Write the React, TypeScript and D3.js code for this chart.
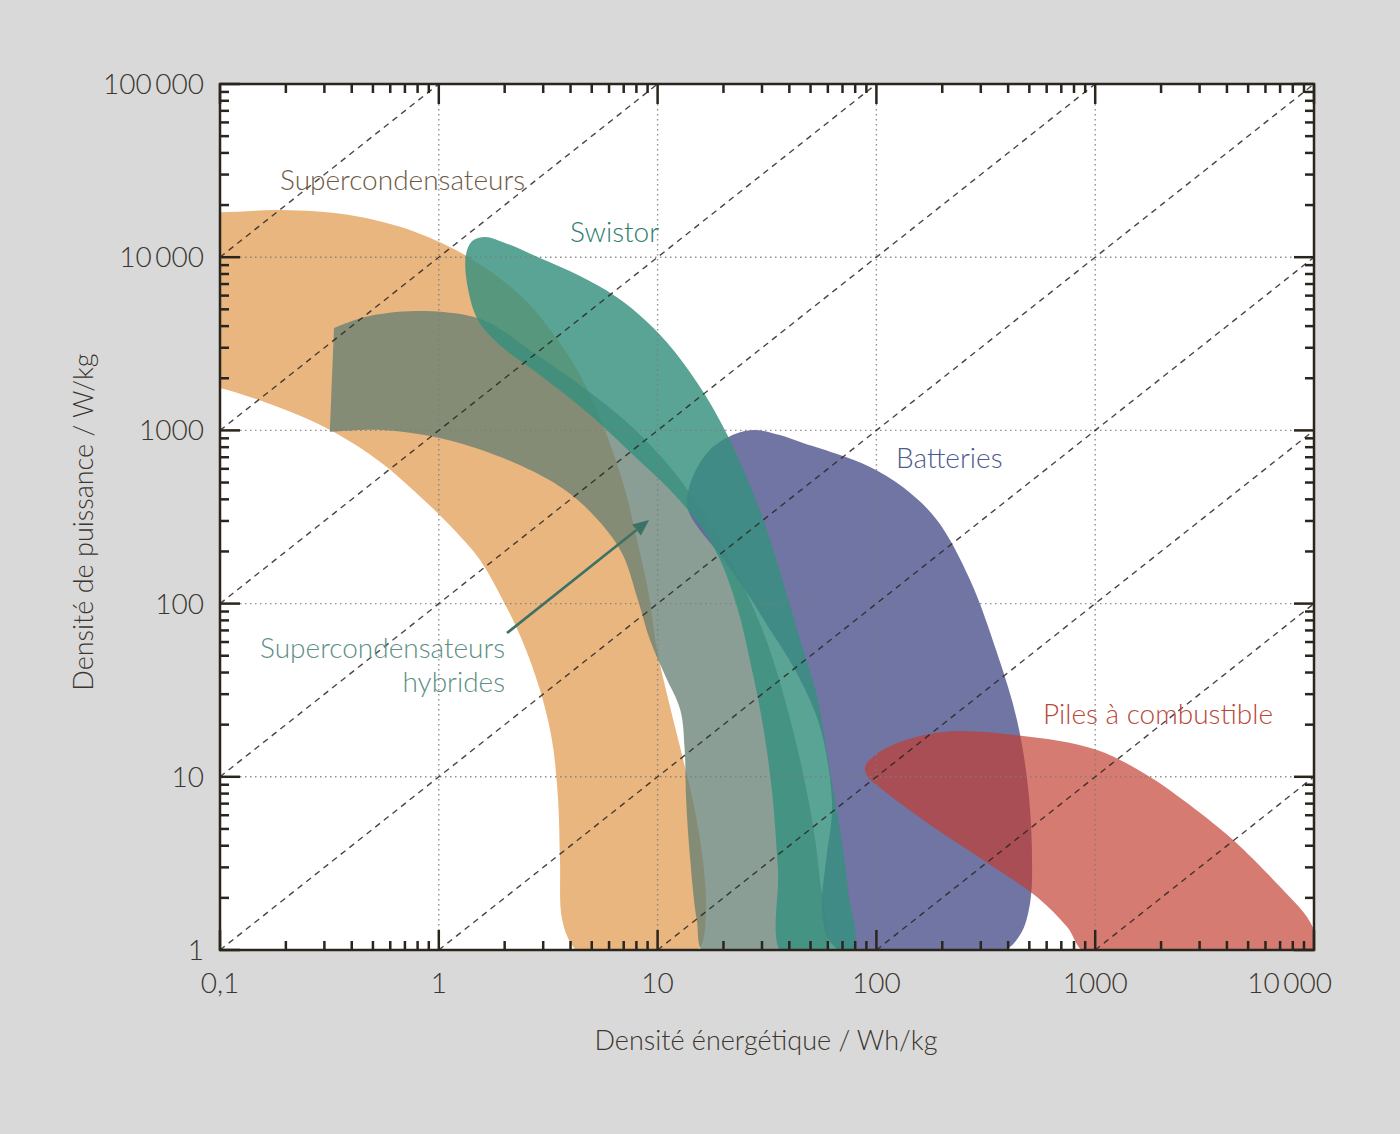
import React from "react";
import * as d3 from "d3";

const W = 1400;
const H = 1134;
const left = 220, right = 1314, top = 84, bottom = 950;

// axes
const xTickValues = [0.1, 1, 10, 100, 1000, 10000];
const xTickLabels = ["0,1", "1", "10", "100", "1000", "10\u2009000"];
const yTickValues = [1, 10, 100, 1000, 10000, 100000];
const yTickLabels = ["1", "10", "100", "1000", "10\u2009000", "100\u2009000"];
// constant E/P lines (hours)
const timeConstants = [1e-5, 1e-4, 1e-3, 1e-2, 1e-1, 1, 10, 100, 1000];

// outlines, [Wh/kg, W/kg]
const supercaps: [number, number][] = [
  [0.06, 18500], [0.1, 18200], [0.19, 18700], [0.39, 17500], [0.78, 14000], [1.39, 9900],
  [2.35, 6050], [3.29, 3700], [4.42, 2090], [5.75, 1000], [7.1, 455], [8.05, 233],
  [9.04, 120], [9.94, 54], [11.2, 27.8], [13.1, 12.5], [14.8, 6.4], [16.3, 2.9],
  [16.6, 1.6], [15.6, 1.03], [12, 0.85], [5, 0.85], [4.1, 1.05], [3.66, 1.5],
  [3.58, 3.3], [3.51, 7.35], [3.29, 16.3], [2.9, 31.7], [2.4, 61.6], [1.96, 105],
  [1.54, 179], [1.12, 284], [0.78, 441], [0.54, 658], [0.325, 993], [0.188, 1350],
  [0.1, 1760], [0.06, 1950],
];

// corners repeated so the outline keeps them sharp
const hybrids: [number, number][] = [
  [0.332, 3900], [0.332, 3900], [0.46, 4520], [0.78, 4890], [1.32, 4640], [1.71, 4170], [2.61, 2910],
  [4.42, 1830], [7.48, 1075], [11.4, 615], [15.6, 356], [20.8, 196], [26.4, 105],
  [32, 57.7], [38.2, 27.8], [44.8, 12.5], [50.8, 5.63], [55.2, 2.54], [57, 0.94],
  [16.5, 0.94], [15.1, 1.49], [14.1, 3.31], [13.5, 7.35], [13.3, 14.3], [12.7, 24.3],
  [10.8, 38.7], [9.23, 61.6], [8.13, 105], [6.87, 196], [5.34, 304], [3.77, 453],
  [2.23, 648], [1.1, 880], [0.55, 1005], [0.318, 979], [0.318, 979],
];

const swistor: [number, number][] = [
  [1.33, 10300], [1.42, 12400], [1.63, 13100], [2.01, 12080], [2.9, 9890], [4.42, 7790],
  [6.39, 5970], [8.76, 4340], [12, 2840], [16.5, 1600], [21.4, 880], [27, 453],
  [32.7, 233], [39, 112], [44.8, 61.6], [54, 27.8], [60.1, 12.5], [68.2, 4.93],
  [74.2, 2.22], [77.3, 0.94], [37.4, 0.94], [35.5, 2.9], [33.3, 8.39], [30, 21.3],
  [26.4, 47.3], [23.3, 91.8], [19.3, 179], [15.6, 284], [11.4, 453], [7.48, 750],
  [4.91, 1230], [2.9, 2090], [1.9, 3110], [1.51, 4340], [1.35, 6910],
];

const batteries: [number, number][] = [
  [13.6, 381], [14.4, 531], [17.3, 771], [22.6, 953], [27.9, 1005], [36.2, 940],
  [46.2, 846], [68.2, 721], [93.5, 615], [132, 471], [189, 304], [268, 137],
  [356, 51.8], [439, 21.3], [493, 8.73], [514, 3.63], [504, 1.87], [453, 1.22],
  [367, 0.97], [71.8, 0.97], [60.1, 1.17], [56.4, 1.82], [58.9, 3.31], [62.7, 6.43],
  [60.1, 11.7], [54, 21.3], [42.5, 41.4], [32.7, 70.4], [25.1, 120], [19.3, 191],
  [15.6, 266], [14.1, 325],
];

const fuelCells: [number, number][] = [
  [88.7, 11.4], [107, 14.3], [195, 18.1], [439, 17.4], [1020, 14.3], [1780, 9.97],
  [2520, 7.35], [4270, 4.32], [7220, 2.22], [9290, 1.55], [10400, 1.14], [10500, 0.94],
  [927, 0.94], [743, 1.36], [542, 2.02], [307, 3.31], [182, 5.13], [107, 8.39],
  [91.6, 9.97],
];

const hybridArrow: [number, number][] = [[2.05, 67.6], [9.14, 304]];

const regions = [
  { name: "supercaps", pts: supercaps, fill: "#EAB680", opacity: 1 },
  { name: "hybrids", pts: hybrids, fill: "#637E73", opacity: 0.75 },
  { name: "batteries", pts: batteries, fill: "#62669A", opacity: 0.9 },
  { name: "swistor", pts: swistor, fill: "#36907E", opacity: 0.82 },
  { name: "fuel", pts: fuelCells, fill: "#C23D2E", opacity: 0.68 },
];

const labels = [
  { text: "Supercondensateurs", at: [0.188, 24400], anchor: "start", color: "#6E5A45" },
  { text: "Swistor", at: [3.98, 12200], anchor: "start", color: "#2F7D70" },
  { text: "Batteries", at: [123, 607], anchor: "start", color: "#4D5A8E" },
  { text: "Piles à combustible", at: [577, 20.2], anchor: "start", color: "#B8483A" },
  { text: "Supercondensateurs", at: [2.01, 48.5], anchor: "end", color: "#5E8E86" },
  { text: "hybrides", at: [2.01, 30.9], anchor: "end", color: "#5E8E86" },
];

const font = "Lato, 'Open Sans', sans-serif";
const ink = "#2A251D";

export default function App() {
  const x = d3.scaleLog().domain([0.1, 10000]).range([left, right]);
  const y = d3.scaleLog().domain([1, 100000]).range([bottom, top]);

  const outline = d3
    .line<[number, number]>()
    .x((d) => x(d[0]))
    .y((d) => y(d[1]))
    .curve(d3.curveCatmullRomClosed.alpha(0.5));

  const isMajor = (v: number) => Math.abs(Math.log10(v) - Math.round(Math.log10(v))) < 1e-9;
  const xt = x.ticks();
  const yt = y.ticks();

  const diagonals = timeConstants
    .map((r) => {
      const e0 = Math.max(0.1, r * 1);
      const e1 = Math.min(10000, r * 100000);
      return { r, e0, e1 };
    })
    .filter((d) => d.e0 < d.e1);

  // arrow head
  const [a0, a1] = hybridArrow;
  const ax0 = x(a0[0]), ay0 = y(a0[1]), ax1 = x(a1[0]), ay1 = y(a1[1]);
  const ang = Math.atan2(ay1 - ay0, ax1 - ax0);
  const hl = 16, hw = 7;
  const bx = ax1 - hl * Math.cos(ang), by = ay1 - hl * Math.sin(ang);
  const head = [
    [ax1, ay1],
    [bx + hw * Math.sin(ang), by - hw * Math.cos(ang)],
    [bx - hw * Math.sin(ang), by + hw * Math.cos(ang)],
  ];

  return (
    <svg width={W} height={H} style={{ position: "absolute", left: 0, top: 0 }} fontFamily={font}>
      <defs>
        <clipPath id="plot">
          <rect x={left} y={top} width={right - left} height={bottom - top} />
        </clipPath>
      </defs>
      <rect width={W} height={H} fill="#D9D9D9" />
      <rect x={left} y={top} width={right - left} height={bottom - top} fill="#fff" />

      <g clipPath="url(#plot)">
        {regions.map((r) => (
          <path key={r.name} d={outline(r.pts) || ""} fill={r.fill} fillOpacity={r.opacity} />
        ))}
      </g>

      {/* grid */}
      <g stroke="#7d7d7d" strokeWidth={1.4} strokeDasharray="1.5,3.5" opacity={0.85}>
        {xTickValues.slice(1, -1).map((v) => (
          <line key={"gx" + v} x1={x(v)} x2={x(v)} y1={top} y2={bottom} />
        ))}
        {yTickValues.slice(1, -1).map((v) => (
          <line key={"gy" + v} x1={left} x2={right} y1={y(v)} y2={y(v)} />
        ))}
      </g>
      <g stroke="#2b2620" strokeWidth={1.4} strokeDasharray="6,5" opacity={0.85}>
        {diagonals.map((d) => (
          <line key={"d" + d.r} x1={x(d.e0)} y1={y(d.e0 / d.r)} x2={x(d.e1)} y2={y(d.e1 / d.r)} />
        ))}
      </g>

      {/* ticks on four sides */}
      <g stroke={ink} strokeWidth={2.5}>
        {xt.map((v) => {
          const len = isMajor(v) ? 20 : 9;
          return (
            <g key={"tx" + v}>
              <line x1={x(v)} x2={x(v)} y1={bottom} y2={bottom - len} />
              <line x1={x(v)} x2={x(v)} y1={top} y2={top + len} />
            </g>
          );
        })}
        {yt.map((v) => {
          const len = isMajor(v) ? 20 : 9;
          return (
            <g key={"ty" + v}>
              <line x1={left} x2={left + len} y1={y(v)} y2={y(v)} />
              <line x1={right} x2={right - len} y1={y(v)} y2={y(v)} />
            </g>
          );
        })}
      </g>
      <rect x={left} y={top} width={right - left} height={bottom - top} fill="none" stroke={ink} strokeWidth={2.5} />

      {/* tick labels */}
      <g fill="#3B362F" fontSize={28} fontWeight={300}>
        {xTickValues.map((v, i) => (
          <text
            key={"lx" + v}
            x={i === xTickValues.length - 1 ? x(v) + 18 : x(v)}
            y={993}
            textAnchor={i === xTickValues.length - 1 ? "end" : "middle"}
          >
            {xTickLabels[i]}
          </text>
        ))}
        {yTickValues.map((v, i) => (
          <text key={"ly" + v} x={204} y={y(v)} dy="0.36em" textAnchor="end">
            {yTickLabels[i]}
          </text>
        ))}
      </g>

      {/* axis titles */}
      <g fill="#3B362F" fontSize={27} fontWeight={300}>
        <text x={766} y={1050} textAnchor="middle">
          Densité énergétique / Wh/kg
        </text>
        <text transform="translate(93,522) rotate(-90)" textAnchor="middle">
          Densité de puissance / W/kg
        </text>
      </g>

      {/* region labels */}
      <g fontSize={28} fontWeight={300}>
        {labels.map((l, i) => (
          <text key={"t" + i} x={x(l.at[0])} y={y(l.at[1])} textAnchor={l.anchor as any} fill={l.color}>
            {l.text}
          </text>
        ))}
      </g>

      {/* arrow */}
      <line x1={ax0} y1={ay0} x2={bx} y2={by} stroke="#3E7166" strokeWidth={2.6} />
      <polygon points={head.map((p) => p.join(",")).join(" ")} fill="#3E7166" />
    </svg>
  );
}
